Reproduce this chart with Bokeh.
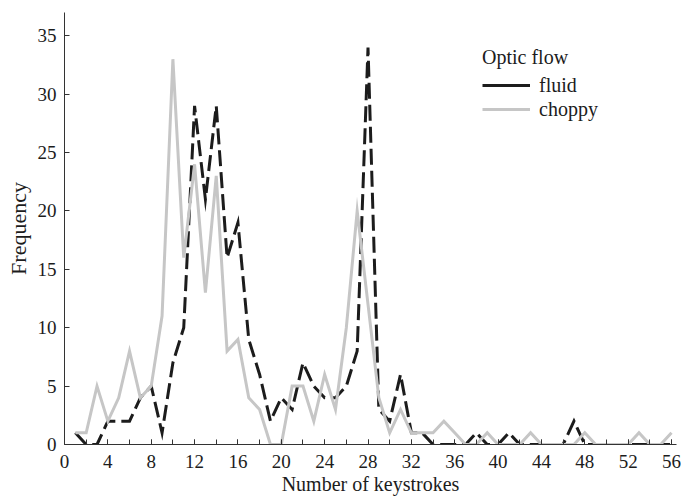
from bokeh.plotting import figure
from bokeh.models import Legend, LegendItem, FixedTicker, Range1d
from bokeh.embed import file_html
from bokeh.resources import INLINE

# ---- data ----
keystrokes = list(range(1, 57))
fluid = [1, 0, 0, 2, 2, 2, 4, 5, 1, 7,
         10, 29, 21, 29, 16, 19, 9, 6, 2, 4,
         3, 7, 5, 4, 4, 5, 8, 34, 3, 2,
         6, 1, 1, 0, 0, 0, 0, 1, 0, 0,
         1, 0, 0, 0, 0, 0, 2, 0, 0, 0,
         0, 0, 0, 0, 0, 0]
choppy = [1, 1, 5, 2, 4, 8, 4, 5, 11, 33,
          16, 24, 13, 23, 8, 9, 4, 3, 0, 0,
          5, 5, 2, 6, 3, 10, 20, 12, 4, 1,
          3, 1, 1, 1, 2, 1, 0, 0, 1, 0,
          0, 0, 1, 0, 0, 0, 0, 1, 0, 0,
          0, 0, 1, 0, 0, 1]
x_ticks = list(range(0, 57, 4))
x_minor = list(range(0, 57, 2))
y_ticks = list(range(0, 36, 5))
series_names = ["fluid", "choppy"]
legend_title = "Optic flow"

FONT = "Liberation Serif"
BLACK = "#1c1c1c"
GRAY = "#c6c6c6"

p = figure(frame_width=612, frame_height=432, output_backend="svg", toolbar_location=None,
           x_range=Range1d(0, 56.46), y_range=Range1d(0, 37),
           min_border_left=64, min_border_right=5, min_border_top=12,
           min_border_bottom=0)
p.outline_line_color = None
p.grid.visible = False
p.background_fill_color = "white"
p.border_fill_color = "white"

p.xaxis.ticker = FixedTicker(ticks=x_ticks, minor_ticks=x_minor)
p.yaxis.ticker = FixedTicker(ticks=y_ticks, minor_ticks=[])
for ax in (p.xaxis[0], p.yaxis[0]):
    ax.axis_line_color = "#333333"
    ax.major_tick_line_color = "#333333"
    ax.minor_tick_line_color = "#333333"
    ax.major_tick_in = 5
    ax.major_tick_out = 0
    ax.minor_tick_in = 5
    ax.minor_tick_out = 0
    ax.major_label_text_font = FONT
    ax.major_label_text_font_size = "19px"
    ax.major_label_text_color = BLACK
    ax.axis_label_text_font = FONT
    ax.axis_label_text_font_size = "20px"
    ax.axis_label_text_font_style = "normal"
    ax.axis_label_text_color = BLACK
p.xaxis.axis_label = "Number of keystrokes"
p.yaxis.axis_label = "Frequency"
p.yaxis.axis_label_text_font_size = "22px"
p.xaxis.major_label_standoff = 10
p.xaxis.axis_label_standoff = 2
p.yaxis.major_label_standoff = 8
p.yaxis.axis_label_standoff = 4

p.line(keystrokes, fluid, line_color=BLACK, line_width=3, line_dash="16 6",
       line_join="miter")
p.line(keystrokes, choppy, line_color=GRAY, line_width=3, line_join="miter")

# legend proxies (solid lines in the legend); a single point draws no segment
proxy_f = p.line(x=keystrokes[:1], y=fluid[:1], line_color=BLACK, line_width=3)
proxy_c = p.line(x=keystrokes[:1], y=choppy[:1], line_color=GRAY, line_width=3)

legend = Legend(items=[LegendItem(label=series_names[0], renderers=[proxy_f]),
                       LegendItem(label=series_names[1], renderers=[proxy_c])],
                title=legend_title, location=(418, 323))
legend.title_text_font = FONT
legend.title_text_font_size = "20px"
legend.title_text_font_style = "normal"
legend.title_text_color = BLACK
legend.title_standoff = 4
legend.label_text_font = FONT
legend.label_text_font_size = "20px"
legend.label_text_color = BLACK
legend.glyph_width = 48
legend.glyph_height = 24
legend.label_height = 24
legend.label_standoff = 9
legend.spacing = -1
legend.padding = 0
legend.margin = 0
legend.border_line_color = None
legend.background_fill_alpha = 0
p.add_layout(legend)

open("out.html", "w").write(file_html(p, INLINE))
